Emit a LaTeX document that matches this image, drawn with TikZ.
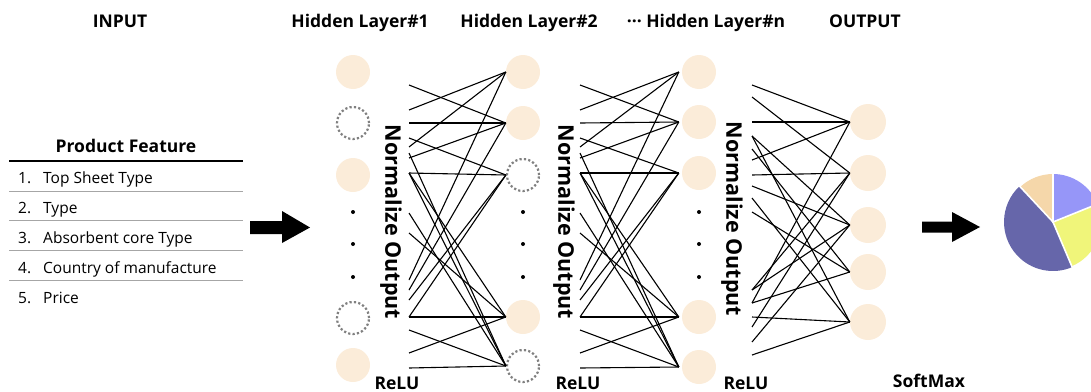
\documentclass[tikz,border=0pt]{standalone}
\usepackage{fontspec}
\setmainfont{Open Sans}
\usetikzlibrary{calc}
\definecolor{neuronfill}{RGB}{251,236,217}
\definecolor{dotgray}{RGB}{128,128,128}
\definecolor{pieA}{RGB}{150,150,248}
\definecolor{pieB}{RGB}{240,245,122}
\definecolor{pieC}{RGB}{102,102,170}
\definecolor{pieD}{RGB}{245,215,170}
\begin{document}
\begin{tikzpicture}[x=1pt,y=-1pt,
  neuron/.style={circle,fill=neuronfill,minimum size=34pt,inner sep=0pt},
  oneuron/.style={circle,fill=neuronfill,minimum size=36pt,inner sep=0pt},
  dneuron/.style={circle,draw=dotgray,line width=2.2pt,dash pattern=on 2.2pt off 2.2pt,minimum size=32pt,inner sep=0pt},
  ell/.style={circle,fill=black,minimum size=4pt,inner sep=0pt},
  wire/.style={line width=1.1pt,black},
  head/.style={font=\bfseries\fontsize{17.5}{20}\selectfont,anchor=base,inner sep=0pt},
  norm/.style={font=\bfseries\fontsize{21.5}{24}\selectfont,rotate=-90,inner sep=0pt},
  row/.style={font=\fontsize{15.5}{18}\selectfont,anchor=base west,inner sep=0pt},
  bigarrow/.style={fill=black}]
\useasboundingbox (0,0) rectangle (1091,391);

% headings
\node[head] (tin) at (120,27) {INPUT};
\node[head] (th1) at (360,27) {Hidden Layer\#1};
\node[head] (th2) at (529,27) {Hidden Layer\#2};
\node[head] (thn) at (706,27) {··· Hidden Layer\#n};
\node[head] (tout) at (865,27) {OUTPUT};

% product feature table
\node[font=\bfseries\fontsize{17.5}{20}\selectfont,anchor=base,inner sep=0pt] (pf) at (126,152) {Product Feature};
\draw[line width=2pt] (9,161) -- (243,161);
\foreach \yy in {191,220,250,280} \draw[gray!70,line width=0.8pt] (9,\yy) -- (243,\yy);
\node[row] (n1) at (18,183) {1.};
\node[row] (r1) at (43,183) {Top Sheet Type};
\node[row] (n2) at (18,213) {2.};
\node[row] (r2) at (43,213) {Type};
\node[row] (n3) at (18,243) {3.};
\node[row] (r3) at (43,243) {Absorbent core Type};
\node[row] (n4) at (18,273) {4.};
\node[row] (r4) at (43,273) {Country of manufacture};
\node[row] (n5) at (18,303) {5.};
\node[row] (r5) at (43,303) {Price};

% input arrow
\fill[bigarrow] (250,221) -- (282,221) -- (282,211) -- (310,227.5) -- (282,243) -- (282,234) -- (250,234) -- cycle;

% hidden layer 1
\node[neuron] (h1a) at (353,72) {};
\node[dneuron] (h1b) at (353,123) {};
\node[neuron] (h1c) at (353,175) {};
\node[dneuron] (h1d) at (353,318) {};
\node[neuron] (h1e) at (353,365) {};
\foreach \yy [count=\k] in {212,244,277} \node[ell] (h1dot\k) at (353,\yy) {};
\node[norm] (nm1) at (391,222) {Normalize Output};

% hidden layer 2
\node[neuron] (h2a) at (523,72) {};
\node[neuron] (h2b) at (523,123) {};
\node[dneuron] (h2c) at (523,175) {};
\node[neuron] (h2d) at (523,317) {};
\node[dneuron] (h2e) at (523,366) {};
\foreach \yy [count=\k] in {212,244,277} \node[ell] (h2dot\k) at (523,\yy) {};
\node[norm] (nm2) at (564,222) {Normalize Output};

% hidden layer n
\node[neuron] (hna) at (699,72) {};
\node[neuron] (hnb) at (699,122) {};
\node[neuron] (hnc) at (699,173) {};
\node[neuron] (hnd) at (699,317) {};
\node[neuron] (hne) at (699,367) {};
\foreach \yy [count=\k] in {212,244,277} \node[ell] (hndot\k) at (699,\yy) {};
\node[norm] (nmn) at (732,219) {Normalize Output};

% output layer
\node[oneuron] (oa) at (868,122) {};
\node[oneuron] (ob) at (868,173) {};
\node[oneuron] (oc) at (868,225) {};
\node[oneuron] (od) at (868,272) {};
\node[oneuron] (oe) at (868,322) {};

% connectors block 1
\foreach \ly/\t [count=\k] in {85/b,110/a,123/b,138/c,147/a,158/b,153/e,173/c,173/d,173/e,213/e,233/d,280/a,290/b,300/c,317/d,317/c,330/e,353/d,368/e}{
  \coordinate (pa\k) at (409,\ly);
  \draw[wire] (pa\k) -- (h2\t.west);
}
% connectors block 2
\foreach \ly/\t [count=\k] in {85/b,110/a,123/b,138/c,147/a,158/b,153/e,173/c,173/d,173/e,213/e,233/d,280/a,290/b,300/c,317/d,317/c,330/e,353/d,368/e}{
  \coordinate (pb\k) at (580,\ly);
  \draw[wire] (pb\k) -- ($(hn\t.west)+(-3,0)$);
}
% connectors block 3
\foreach \ly/\t [count=\k] in {85/a,97/b,122/a,136/c,136/e,149/d,160/a,175/b,186/c,198/e,212/d,290/b,290/c,303/a,303/d,317/e,327/b,342/c,355/e}{
  \coordinate (pc\k) at (752,\ly);
  \draw[wire] (pc\k) -- (o\t.west);
}

% relu / softmax labels
\node[head] (re1) at (397,389) {ReLU};
\node[head] (re2) at (578,389) {ReLU};
\node[head] (re3) at (746,389) {ReLU};
\node[head] (sm) at (929,387) {SoftMax};

% output arrow
\fill[bigarrow] (922,221.5) -- (952,221.5) -- (952,212) -- (980,227) -- (952,242) -- (952,232.5) -- (922,232.5) -- cycle;

% pie chart
\begin{scope}
\clip (0,0) rectangle (1091,391);
\begin{scope}[shift={(1053,222)},yscale=-1]
\coordinate (pctr) at (0,0);
\fill[pieA] (pctr) -- (22:48) arc[start angle=22,end angle=90,radius=48] -- cycle;
\fill[pieD] (pctr) -- (90:48) arc[start angle=90,end angle=133,radius=48] -- cycle;
\fill[pieC] (pctr) -- (133:49) arc[start angle=133,end angle=293,radius=49] -- cycle;
\fill[pieB] (pctr) -- (-67:48) arc[start angle=-67,end angle=22,radius=48] -- cycle;
\draw[white,line width=1.6pt] (22:50) -- (pctr) -- (90:50);
\draw[white,line width=1.6pt] (133:51) -- (pctr) -- (-67:51);
\end{scope}
\end{scope}
\end{tikzpicture}
\end{document}
